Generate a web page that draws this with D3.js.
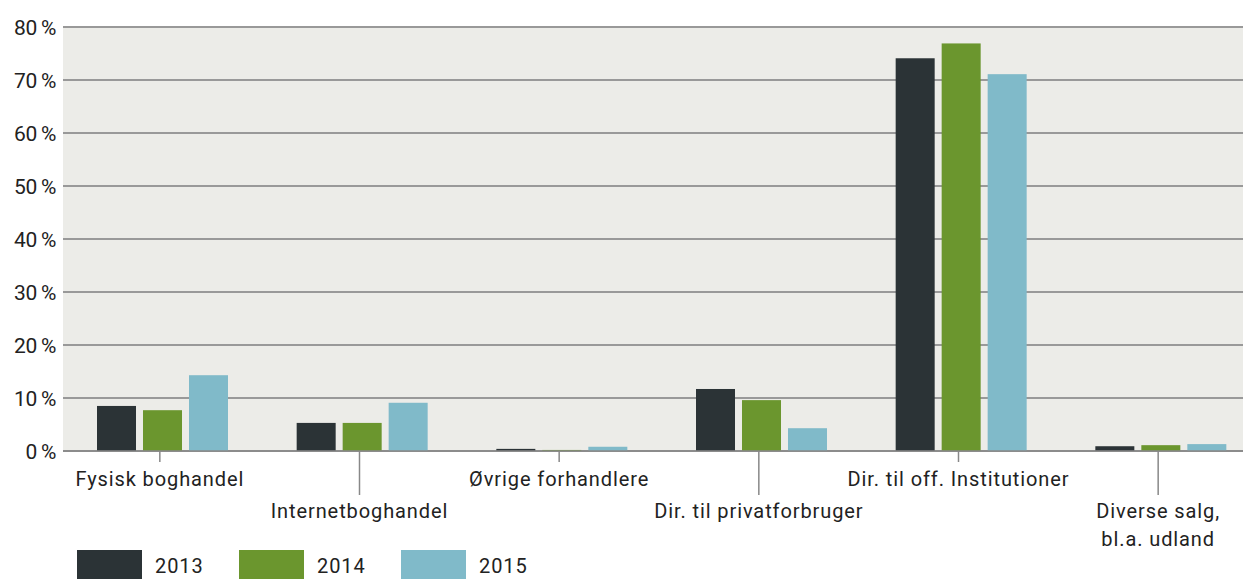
<!DOCTYPE html>
<html>
<head>
<meta charset="utf-8">
<script src="https://cdn.jsdelivr.net/npm/d3@7"></script>
<style>
  body { margin: 0; background: #fff; }
  svg { display: block; font-family: Roboto, "Noto Sans", sans-serif; }
</style>
</head>
<body>
<div class="plot"></div>
<script>
// data
var categories = ["Fysisk boghandel", "Internetboghandel", "Øvrige forhandlere",
  "Dir. til privatforbruger", "Dir. til off. Institutioner", "Diverse salg,|bl.a. udland"];
var years = ["2013", "2014", "2015"];
var v2013 = [8.5, 5.3, 0.4, 11.7, 74.1, 0.9];
var v2014 = [7.7, 5.3, 0.2, 9.6, 76.9, 1.1];
var v2015 = [14.3, 9.1, 0.8, 4.3, 71.1, 1.3];
var yTicks = [0, 10, 20, 30, 40, 50, 60, 70, 80];

var colors = {"2013": "#2b3336", "2014": "#6b962e", "2015": "#80bac9"};

var width = 1243, height = 579;
var margin = {top: 27, left: 63, bottom: 451};

var svg = d3.select(".plot")
  .append("svg")
  .attr("width", width)
  .attr("height", height);

// plot background
svg.append("rect")
  .attr("x", margin.left)
  .attr("y", margin.top)
  .attr("width", width - margin.left)
  .attr("height", margin.bottom - margin.top)
  .attr("fill", "#ecece8");

var y = d3.scaleLinear()
  .domain([0, 80])
  .range([margin.bottom, margin.top]);

var x = d3.scaleBand()
  .domain(categories)
  .range([60, 1258]);

var xs = d3.scaleBand()
  .domain(years)
  .range([0, 131])
  .paddingInner(0.152);

// gridlines
svg.append("g")
  .selectAll("line")
  .data(yTicks)
  .enter()
  .append("line")
    .attr("x1", margin.left)
    .attr("x2", width)
    .attr("y1", function(d) { return y(d); })
    .attr("y2", function(d) { return y(d); })
    .attr("stroke", "#999")
    .attr("stroke-width", 2);

// y labels
svg.append("g")
  .selectAll("text")
  .data(yTicks)
  .enter()
  .append("text")
    .attr("x", 56)
    .attr("y", function(d) { return y(d) + 8; })
    .attr("text-anchor", "end")
    .attr("font-size", "21px")
    .attr("letter-spacing", "-0.3px")
    .attr("fill", "#222")
    .text(function(d) { return d + "\u2009%"; });

// bars
var series = years.map(function(yr, i) {
  var vals = [v2013, v2014, v2015][i];
  return categories.map(function(c, j) { return {cat: c, year: yr, value: vals[j]}; });
});

var groupOffset = 37;

svg.append("g")
  .selectAll("g")
  .data(series)
  .enter()
  .append("g")
  .selectAll("rect")
  .data(function(d) { return d; })
  .enter()
  .append("rect")
    .attr("x", function(d) { return x(d.cat) + groupOffset + xs(d.year); })
    .attr("y", function(d) { return y(d.value); })
    .attr("width", xs.bandwidth())
    .attr("height", function(d) { return y(0) - y(d.value); })
    .attr("fill", function(d) { return colors[d.year]; });

// baseline
svg.append("line")
  .attr("x1", margin.left)
  .attr("x2", width)
  .attr("y1", y(0))
  .attr("y2", y(0))
  .attr("stroke", "#888")
  .attr("stroke-width", 1.5);

// category ticks and labels, staggered
var cat = svg.append("g")
  .selectAll("g")
  .data(categories)
  .enter()
  .append("g")
  .attr("transform", function(d) { return "translate(" + (x(d) + x.bandwidth() / 2) + ",0)"; });

cat.append("line")
  .attr("y1", y(0))
  .attr("y2", function(d, i) { return i % 2 == 0 ? 462 : 495; })
  .attr("stroke", "#888")
  .attr("stroke-width", 1.5);

cat.append("text")
  .attr("text-anchor", "middle")
  .attr("font-size", "20px")
  .attr("letter-spacing", "0.9px")
  .attr("fill", "#222")
  .selectAll("tspan")
  .data(function(d, i) {
    return d.split("|").map(function(t, k) { return {t: t, y: (i % 2 == 0 ? 486 : 518) + k * 28}; });
  })
  .enter()
  .append("tspan")
    .attr("x", 0)
    .attr("y", function(d) { return d.y; })
    .text(function(d) { return d.t; });

// legend
var legend = svg.append("g")
  .selectAll("g")
  .data(years)
  .enter()
  .append("g")
  .attr("transform", function(d, i) { return "translate(" + (77 + i * 162) + ",550)"; });

legend.append("rect")
  .attr("width", 65)
  .attr("height", 30)
  .attr("fill", function(d) { return colors[d]; });

legend.append("text")
  .attr("x", 78)
  .attr("y", 23)
  .attr("font-size", "20px")
  .attr("letter-spacing", "0.9px")
  .attr("fill", "#222")
  .text(function(d) { return d; });
</script>
</body>
</html>
